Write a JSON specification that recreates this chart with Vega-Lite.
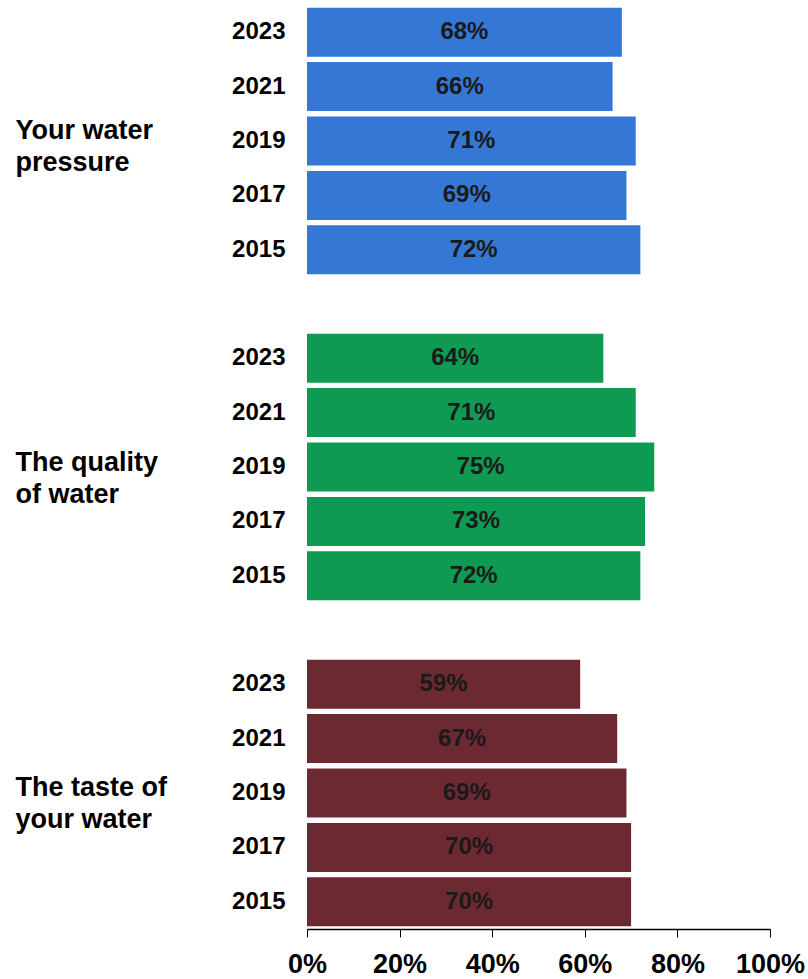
{
  "$schema": "https://vega.github.io/schema/vega-lite/v6.json",
  "background": "white",
  "padding": {"left": 15, "top": 5, "right": 5, "bottom": 5},
  "config": {
    "font": "Liberation Sans",
    "view": {"stroke": null},
    "axisY": {"titleAngle": 0, "titleAlign": "left", "titleBaseline": "middle", "titleX": -292, "titleFontSize": 27, "titleFontWeight": "bold", "titleColor": "black", "titleLineHeight": 32, "ticks": false, "domain": false, "labelFontSize": 24, "labelFontWeight": "bold", "labelColor": "black", "labelPadding": 22},
    "text": {"fontSize": 24, "fontWeight": "bold", "color": "#1a1a1a", "baseline": "middle"}
  },
  "data": {"values": [
    {"group": "pressure", "year": "2023", "v": 0.68},
    {"group": "pressure", "year": "2021", "v": 0.66},
    {"group": "pressure", "year": "2019", "v": 0.71},
    {"group": "pressure", "year": "2017", "v": 0.69},
    {"group": "pressure", "year": "2015", "v": 0.72},
    {"group": "quality", "year": "2023", "v": 0.64},
    {"group": "quality", "year": "2021", "v": 0.71},
    {"group": "quality", "year": "2019", "v": 0.75},
    {"group": "quality", "year": "2017", "v": 0.73},
    {"group": "quality", "year": "2015", "v": 0.72},
    {"group": "taste", "year": "2023", "v": 0.59},
    {"group": "taste", "year": "2021", "v": 0.67},
    {"group": "taste", "year": "2019", "v": 0.69},
    {"group": "taste", "year": "2017", "v": 0.70},
    {"group": "taste", "year": "2015", "v": 0.70}
  ]},
  "spacing": 54,
  "vconcat": [
    {
      "width": 463, "height": 272,
      "transform": [{"filter": "datum.group === 'pressure'"}, {"calculate": "datum.v / 2", "as": "mid"}],
      "encoding": {
        "y": {"field": "year", "type": "ordinal", "sort": ["2023", "2021", "2019", "2017", "2015"], "scale": {"paddingInner": 0.1, "paddingOuter": 0.05}, "axis": {"title": ["Your water", "pressure"], "titleY": 125}}
      },
      "layer": [
        {"mark": {"type": "bar", "color": "#3577d4"}, "encoding": {"x": {"field": "v", "type": "quantitative", "scale": {"domain": [0, 1]}, "axis": null}}},
        {"mark": {"type": "text"}, "encoding": {"x": {"field": "mid", "type": "quantitative", "scale": {"domain": [0, 1]}}, "text": {"field": "v", "type": "quantitative", "format": ".0%"}}}
      ]
    },
    {
      "width": 463, "height": 272,
      "transform": [{"filter": "datum.group === 'quality'"}, {"calculate": "datum.v / 2", "as": "mid"}],
      "encoding": {
        "y": {"field": "year", "type": "ordinal", "sort": ["2023", "2021", "2019", "2017", "2015"], "scale": {"paddingInner": 0.1, "paddingOuter": 0.05}, "axis": {"title": ["The quality", "of water"], "titleY": 131}}
      },
      "layer": [
        {"mark": {"type": "bar", "color": "#0e9a52"}, "encoding": {"x": {"field": "v", "type": "quantitative", "scale": {"domain": [0, 1]}, "axis": null}}},
        {"mark": {"type": "text"}, "encoding": {"x": {"field": "mid", "type": "quantitative", "scale": {"domain": [0, 1]}}, "text": {"field": "v", "type": "quantitative", "format": ".0%"}}}
      ]
    },
    {
      "width": 463, "height": 272,
      "transform": [{"filter": "datum.group === 'taste'"}, {"calculate": "datum.v / 2", "as": "mid"}],
      "encoding": {
        "y": {"field": "year", "type": "ordinal", "sort": ["2023", "2021", "2019", "2017", "2015"], "scale": {"paddingInner": 0.1, "paddingOuter": 0.05}, "axis": {"title": ["The taste of", "your water"], "titleY": 130}}
      },
      "layer": [
        {"mark": {"type": "bar", "color": "#6d2932"}, "encoding": {"x": {"field": "v", "type": "quantitative", "scale": {"domain": [0, 1]}, "axis": {"title": null, "values": [0, 0.2, 0.4, 0.6, 0.8, 1], "format": ".0%", "grid": false, "labelFontSize": 27, "labelFontWeight": "bold", "labelColor": "black", "domainColor": "black", "domainWidth": 1.5, "tickColor": "black", "tickSize": 8, "labelPadding": 14, "labelFlush": false}}}},
        {"mark": {"type": "text"}, "encoding": {"x": {"field": "mid", "type": "quantitative", "scale": {"domain": [0, 1]}}, "text": {"field": "v", "type": "quantitative", "format": ".0%"}}}
      ]
    }
  ]
}
